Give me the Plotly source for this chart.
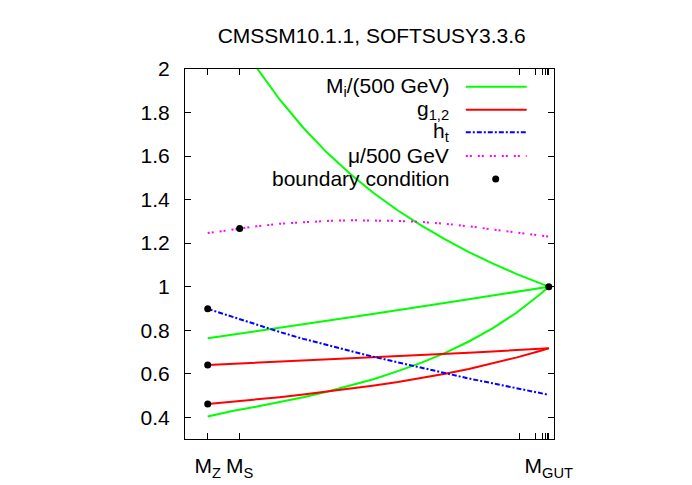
import plotly.graph_objects as go

# renormalisation scale (GeV) and running parameters
MZ, MS, MGUT = 91.1876, 2050.0, 2.4e16
scale = [MZ, 1e3, 1e4, 1e5, 1e6, 1e7, 1e8, 1e9, 1e10, 1e11, 1e12,
         1e13, 1e14, 1e15, 1e16, MGUT]

m3 = [2.42, 2.19, 2.01, 1.86, 1.73, 1.616, 1.516, 1.428, 1.350, 1.280,
      1.217, 1.159, 1.107, 1.059, 1.016, 1.0]
m2 = [0.763, 0.779, 0.795, 0.811, 0.827, 0.843, 0.859, 0.875, 0.891,
      0.908, 0.925, 0.942, 0.959, 0.976, 0.993, 1.0]
m1 = [0.403, 0.429, 0.448, 0.469, 0.492, 0.517, 0.545, 0.576, 0.612,
      0.651, 0.696, 0.748, 0.808, 0.879, 0.964, 1.0]
g2 = [0.640, 0.645, 0.650, 0.655, 0.660, 0.665, 0.670, 0.675, 0.680,
      0.685, 0.690, 0.696, 0.702, 0.709, 0.714, 0.717]
g1 = [0.461, 0.471, 0.481, 0.492, 0.504, 0.517, 0.531, 0.546, 0.562,
      0.580, 0.600, 0.622, 0.647, 0.674, 0.704, 0.717]
ht = [0.898, 0.861, 0.826, 0.792, 0.760, 0.731, 0.704, 0.677, 0.652,
      0.627, 0.601, 0.578, 0.556, 0.534, 0.512, 0.503]
mu = [1.246, 1.263, 1.277, 1.289, 1.297, 1.302, 1.305, 1.305, 1.302,
      1.297, 1.289, 1.277, 1.264, 1.250, 1.235, 1.230]

bc_scale = [MZ, MZ, MZ, MS, MGUT]
bc_value = [0.898, 0.640, 0.461, 1.267, 1.0]

xtick_vals = [MZ, MS, 1.32e15, 6.6e15, 1.26e16, 1.78e16, 2.09e16, MGUT]
xtick_text = ["M<sub>Z</sub>", "M<sub>S</sub>", "", "", "", "", "",
              "M<sub>GUT</sub>"]
ytick_vals = [0.4, 0.6, 0.8, 1.0, 1.2, 1.4, 1.6, 1.8, 2.0]
ytick_text = ["0.4", "0.6", "0.8", "1", "1.2", "1.4", "1.6", "1.8", "2"]

GREEN, RED, BLUE, MAGENTA = "#00ff00", "#ff0000", "#0000ff", "#ff00ff"
DASH_HT = "5px,2px,2px,2px"
DASH_MU = "2px,2px,2px,6px"
FONT = "Liberation Sans, Arial, sans-serif"

fig = go.Figure()
for vals, col, dash in [(m3, GREEN, "solid"), (m2, GREEN, "solid"),
                        (m1, GREEN, "solid"), (g2, RED, "solid"),
                        (g1, RED, "solid"), (ht, BLUE, DASH_HT),
                        (mu, MAGENTA, DASH_MU)]:
    fig.add_trace(go.Scatter(x=scale, y=vals, mode="lines",
                             line=dict(color=col, width=2, dash=dash),
                             showlegend=False))
fig.add_trace(go.Scatter(x=bc_scale, y=bc_value, mode="markers",
                         marker=dict(color="black", size=7),
                         showlegend=False, cliponaxis=False))

# gnuplot-style key: right-aligned text, sample to the right
key_labels = ["M<sub>i</sub>/(500 GeV)", "g<sub>1,2</sub>", "h<sub>t</sub>",
              "\u03bc/500 GeV", "boundary condition"]
key_colors = [GREEN, RED, BLUE, MAGENTA, None]
key_dashes = ["solid", "solid", DASH_HT, DASH_MU, None]
key_y = [0.952, 0.890, 0.829, 0.765, 0.703]

for lab, col, dash, yy in zip(key_labels, key_colors, key_dashes, key_y):
    fig.add_annotation(x=0.722, y=yy, xref="paper", yref="paper",
                       text=lab, showarrow=False, xanchor="right",
                       yanchor="middle", font=dict(size=21, color="black"))
    if col:
        fig.add_shape(type="line", xref="paper", yref="paper",
                      x0=0.761, x1=0.926, y0=yy, y1=yy,
                      line=dict(color=col, width=2, dash=dash))
    else:
        fig.add_shape(type="circle", xref="paper", yref="paper",
                      xsizemode="pixel", ysizemode="pixel",
                      xanchor=0.842, yanchor=yy, x0=-3.5, x1=3.5,
                      y0=-3.5, y1=3.5, fillcolor="black",
                      line=dict(color="black", width=0))

# page body adds an 8px offset, so margins are shifted by that
fig.update_layout(
    width=692, height=485, autosize=False,
    margin=dict(l=177, r=146, t=61, b=54),
    paper_bgcolor="white", plot_bgcolor="white",
    font=dict(family=FONT, size=21, color="black"),
    title=dict(text="CMSSM10.1.1, SOFTSUSY3.3.6", x=0.506, xanchor="center",
               xref="paper", y=0.944, yanchor="middle", yref="container",
               font=dict(size=21)),
    showlegend=False,
)
fig.update_xaxes(type="log", range=[1.0, 16.6], tickvals=xtick_vals,
                 ticktext=xtick_text, ticks="inside", ticklen=6,
                 tickcolor="black", showline=True, linecolor="black",
                 linewidth=1, mirror="ticks", showgrid=False, zeroline=False,
                 ticklabelstandoff=8)
fig.update_yaxes(range=[0.3, 2.0], tickvals=ytick_vals, ticktext=ytick_text,
                 ticks="inside", ticklen=6, tickcolor="black",
                 showline=True, linecolor="black", linewidth=1,
                 mirror="ticks", showgrid=False, zeroline=False,
                 ticklabelstandoff=10)

fig.write_html("out.html")
